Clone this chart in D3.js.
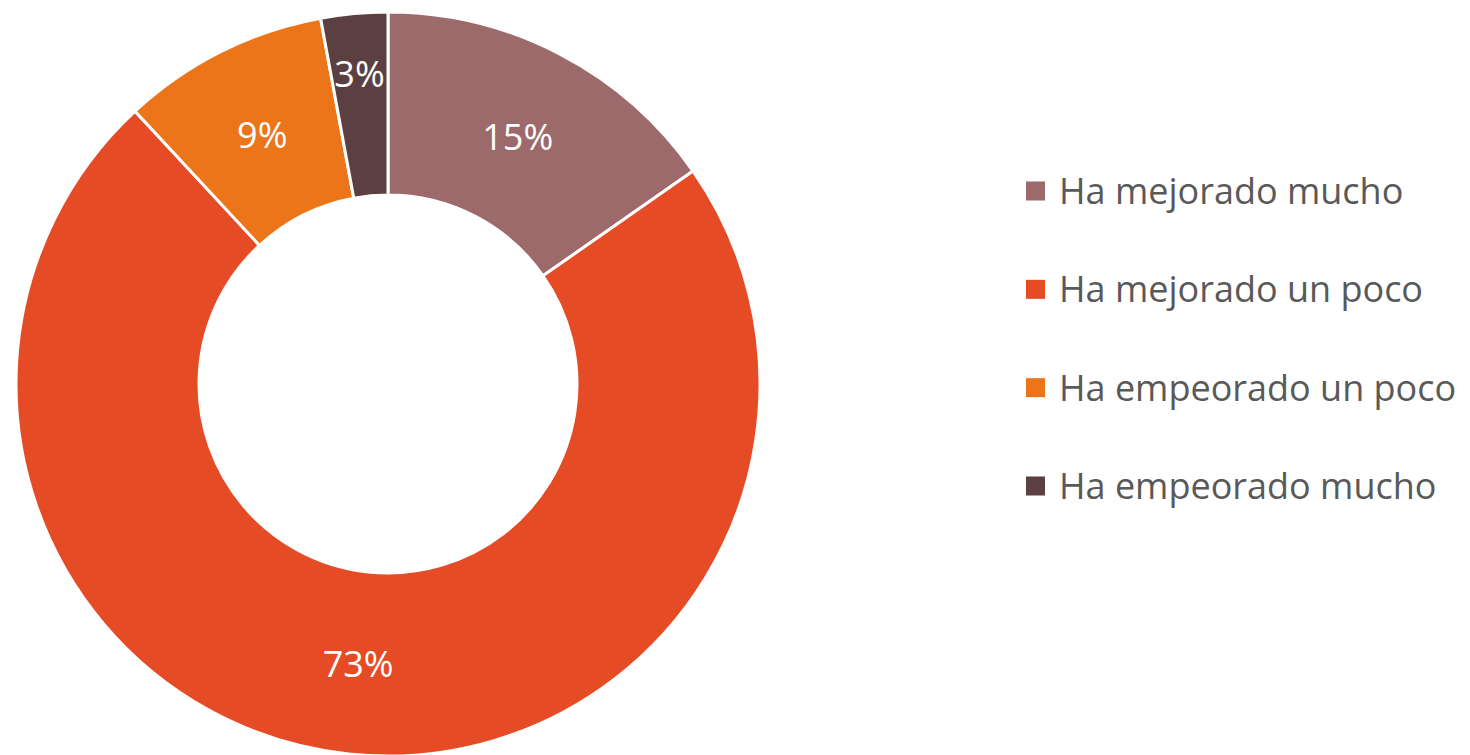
<!DOCTYPE html>
<html>
<head>
<meta charset="utf-8">
<script src="https://cdn.jsdelivr.net/npm/d3@7"></script>
<style>
  body { margin: 0; background: #fff; }
</style>
</head>
<body>
<script>
// slice data, clockwise from 12 o'clock
var categories = ["Ha mejorado mucho", "Ha mejorado un poco", "Ha empeorado un poco", "Ha empeorado mucho"];
var values = [15.3, 72.8, 9.0, 2.9];
var colors = ["#9C6A6A", "#E54B24", "#EC7419", "#5C3F41"];

var width = 1470, height = 755;
var cx = 388, cy = 384;
var outerR = 372, innerR = 189;
var font = "'Open Sans', 'Noto Sans', sans-serif";

var svg = d3.select("body").append("svg")
    .attr("width", width)
    .attr("height", height);

var data = categories.map(function (c, i) {
    return { name: c, value: values[i], color: colors[i] };
});

var pie = d3.pie()
    .sort(null)
    .value(function (d) { return d.value; });

var arc = d3.arc()
    .innerRadius(innerR)
    .outerRadius(outerR);

// thin slices get their label pushed out toward the rim
var outerLabelArc = d3.arc()
    .innerRadius(254)
    .outerRadius(372);

var g = svg.append("g")
    .attr("transform", "translate(" + cx + "," + cy + ")");

var arcs = pie(data);

// slices
g.selectAll("path")
    .data(arcs)
    .enter()
    .append("path")
    .attr("d", arc)
    .attr("fill", function (d) { return d.data.color; })
    .attr("stroke", "#fff")
    .attr("stroke-width", 3);

function labelPos(d) {
    return d.data.value < 5 ? outerLabelArc.centroid(d) : arc.centroid(d);
}

// percent labels
g.selectAll("text")
    .data(arcs)
    .enter()
    .append("text")
    .attr("x", function (d) { return labelPos(d)[0]; })
    .attr("y", function (d) { return labelPos(d)[1]; })
    .attr("dy", "0.4em")
    .attr("text-anchor", "middle")
    .attr("font-family", font)
    .attr("font-size", "36px")
    .attr("fill", "#fff")
    .text(function (d) { return Math.round(d.data.value) + "%"; });

// legend
var legendY = d3.scalePoint()
    .domain(categories)
    .range([191, 486]);

var legend = svg.append("g");

var items = legend.selectAll("g")
    .data(data)
    .enter()
    .append("g")
    .attr("transform", function (d) { return "translate(1026," + legendY(d.name) + ")"; });

items.append("rect")
    .attr("x", 0)
    .attr("y", -9.5)
    .attr("width", 19)
    .attr("height", 19)
    .attr("fill", function (d) { return d.color; });

items.append("text")
    .attr("x", 33)
    .attr("dy", "0.36em")
    .attr("font-family", font)
    .attr("font-size", "36px")
    .attr("fill", "#595959")
    .text(function (d) { return d.name; });
</script>
</body>
</html>
